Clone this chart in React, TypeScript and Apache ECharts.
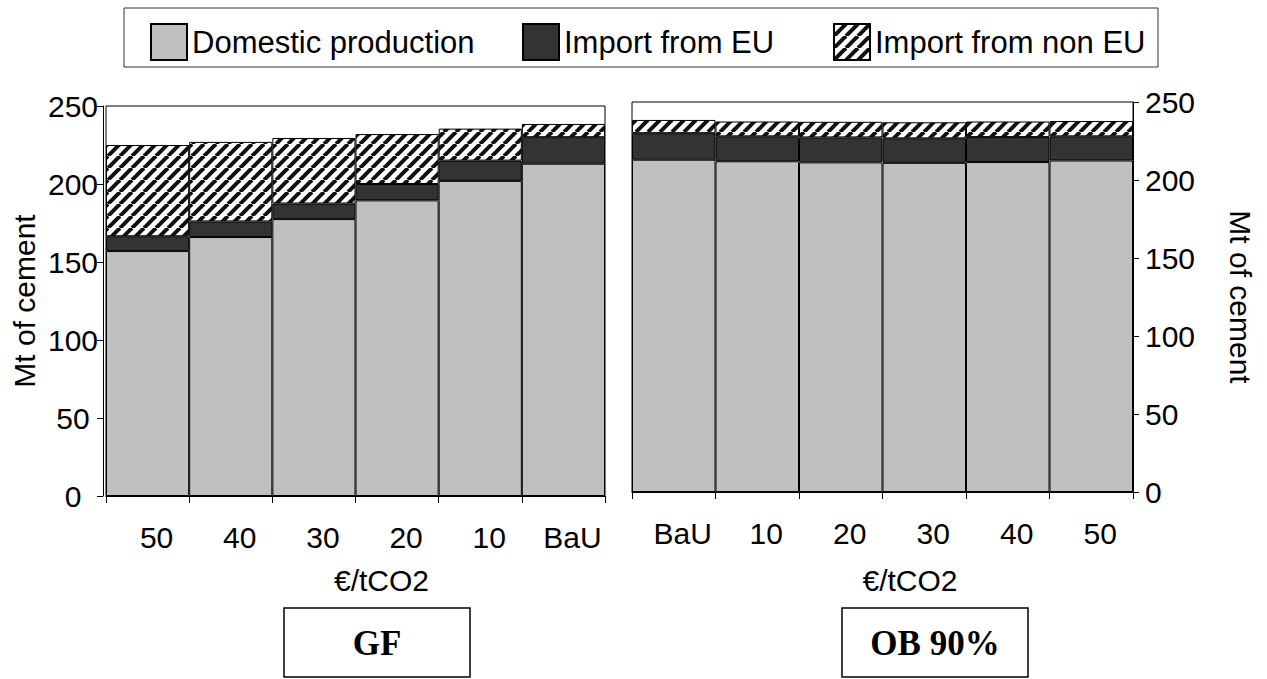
import React, { useEffect, useRef } from "react";
import * as echarts from "echarts";

const categoriesGF = ["50", "40", "30", "20", "10", "BaU"];
const domesticGF = [157, 166, 177.5, 189.5, 202, 213];
const euGF = [9.5, 10, 10, 10.5, 13, 17];
const nonEuGF = [58.5, 51, 42, 32, 20.5, 8.5];

const categoriesOB = ["BaU", "10", "20", "30", "40", "50"];
const domesticOB = [213, 212, 211.3, 211, 211.5, 212.5];
const euOB = [17, 16, 16, 15.7, 16, 15.5];
const nonEuOB = [8.5, 9.5, 10, 10.3, 10, 9.8];

const yTicks = [0, 50, 100, 150, 200, 250];
const seriesNames = ["Domestic production", "Import from EU", "Import from non EU"];
const panelTitles = ["GF", "OB 90%"];
const xAxisTitle = "€/tCO2";
const yAxisTitle = "Mt of cement";

const FONT = "'Liberation Sans', Arial, sans-serif";
const FS = 30;

function makeHatch(): string {
  const c = document.createElement("canvas");
  const s = 12;
  c.width = s;
  c.height = s;
  const ctx = c.getContext("2d")!;
  ctx.fillStyle = "#ffffff";
  ctx.fillRect(0, 0, s, s);
  ctx.strokeStyle = "#111111";
  ctx.lineWidth = 4;
  for (let k = -1; k <= 2; k++) {
    ctx.beginPath();
    ctx.moveTo(k * s - s, s);
    ctx.lineTo(k * s, 0);
    ctx.stroke();
  }
  return c.toDataURL();
}

export default function App() {
  const ref = useRef<HTMLDivElement>(null);
  useEffect(() => {
    if (!ref.current) return;
    const chart = echarts.init(ref.current, undefined, { renderer: "svg" });
    const hatch = { image: makeHatch(), repeat: "repeat" } as any;
    const colors = ["#c0c0c0", "#333333", hatch];
    const dataGF = [domesticGF, euGF, nonEuGF];
    const dataOB = [domesticOB, euOB, nonEuOB];

    const mkSeries = (idx: number, data: number[][], stack: string) =>
      seriesNames.map((name, i) => ({
        name,
        type: "bar",
        stack,
        xAxisIndex: idx,
        yAxisIndex: idx,
        barCategoryGap: "0%",
        data: data[i],
        itemStyle: { color: colors[i], borderColor: "#000", borderWidth: 1 },
        emphasis: { disabled: true },
      }));

    const xAxisCommon = {
      type: "category",
      nameLocation: "middle",
      axisLine: { lineStyle: { color: "#000", width: 1 } },
      axisTick: { show: true, length: 7, interval: 0, lineStyle: { color: "#000" } },
      axisLabel: {
        color: "#000",
        fontSize: FS,
        fontFamily: FONT,
        interval: 0,
        margin: 26,
        padding: [0, 0, 0, 18],
      },
    };
    const yAxisCommon = {
      type: "value",
      min: 0,
      max: 250,
      interval: 50,
      nameLocation: "middle",
      nameTextStyle: { color: "#000", fontSize: FS, fontFamily: FONT },
      splitLine: { show: false },
      axisLine: { show: true, lineStyle: { color: "#000", width: 1 } },
      axisTick: { show: true, length: 6, lineStyle: { color: "#000" } },
      axisLabel: {
        color: "#000",
        fontSize: FS,
        fontFamily: FONT,
        padding: [8, 0, 0, 0],
        formatter: (v: number) => (yTicks.indexOf(v) >= 0 ? String(v) : ""),
      },
    };

    const legendCommon = {
      top: 18,
      itemWidth: 36,
      itemHeight: 36,
      icon: "rect",
      selectedMode: false,
      textStyle: { color: "#000", fontSize: 31, fontFamily: FONT },
    };

    chart.setOption({
      animation: false,
      backgroundColor: "#ffffff",
      textStyle: { fontFamily: FONT },
      legend: [
        { ...legendCommon, left: 145, data: [seriesNames[0]] },
        { ...legendCommon, left: 517, data: [seriesNames[1]] },
        { ...legendCommon, left: 828, data: [seriesNames[2]] },
      ],
      grid: [
        { left: 106, top: 106, width: 499, height: 390, show: true, borderColor: "#000", borderWidth: 1, backgroundColor: "transparent" },
        { left: 632, top: 102, width: 501, height: 390, show: true, borderColor: "#000", borderWidth: 1, backgroundColor: "transparent" },
      ],
      xAxis: [
        {
          ...xAxisCommon,
          gridIndex: 0,
          data: categoriesGF,
          name: xAxisTitle,
          nameGap: 69,
          nameTextStyle: { color: "#000", fontSize: FS, fontFamily: FONT, padding: [0, 0, 0, 52] },
        },
        {
          ...xAxisCommon,
          gridIndex: 1,
          data: categoriesOB,
          name: xAxisTitle,
          nameGap: 73,
          nameTextStyle: { color: "#000", fontSize: FS, fontFamily: FONT, padding: [0, 0, 0, 55] },
        },
      ],
      yAxis: [
        {
          ...yAxisCommon,
          gridIndex: 0,
          position: "left",
          offset: 3,
          name: yAxisTitle,
          nameGap: 64,
          axisLabel: { ...yAxisCommon.axisLabel, margin: 30, align: "center" },
        },
        {
          ...yAxisCommon,
          gridIndex: 1,
          position: "right",
          name: yAxisTitle,
          nameGap: 92,
          nameRotate: -90,
          axisLabel: { ...yAxisCommon.axisLabel, margin: 12 },
        },
      ],
      graphic: [
        {
          type: "rect",
          shape: { x: 124, y: 8, width: 1034, height: 59 },
          style: { fill: "none", stroke: "#333", lineWidth: 1 },
          silent: true,
        },
        {
          type: "rect",
          shape: { x: 284, y: 608, width: 186, height: 69 },
          style: { fill: "#fff", stroke: "#000", lineWidth: 1.5 },
          silent: true,
        },
        {
          type: "text",
          x: 377,
          y: 643,
          style: {
            text: panelTitles[0],
            fill: "#000",
            font: "bold 35px 'Liberation Serif', 'Times New Roman', serif",
            textAlign: "center",
            textVerticalAlign: "middle",
          },
          silent: true,
        },
        {
          type: "rect",
          shape: { x: 842, y: 608, width: 186, height: 69 },
          style: { fill: "#fff", stroke: "#000", lineWidth: 1.5 },
          silent: true,
        },
        {
          type: "text",
          x: 935,
          y: 643,
          style: {
            text: panelTitles[1],
            fill: "#000",
            font: "bold 35px 'Liberation Serif', 'Times New Roman', serif",
            textAlign: "center",
            textVerticalAlign: "middle",
          },
          silent: true,
        },
      ],
      series: [...mkSeries(0, dataGF, "gf"), ...mkSeries(1, dataOB, "ob")],
    });
    return () => chart.dispose();
  }, []);
  return (
    <div
      ref={ref}
      style={{ position: "absolute", left: 0, top: 0, width: 1267, height: 679 }}
    />
  );
}
